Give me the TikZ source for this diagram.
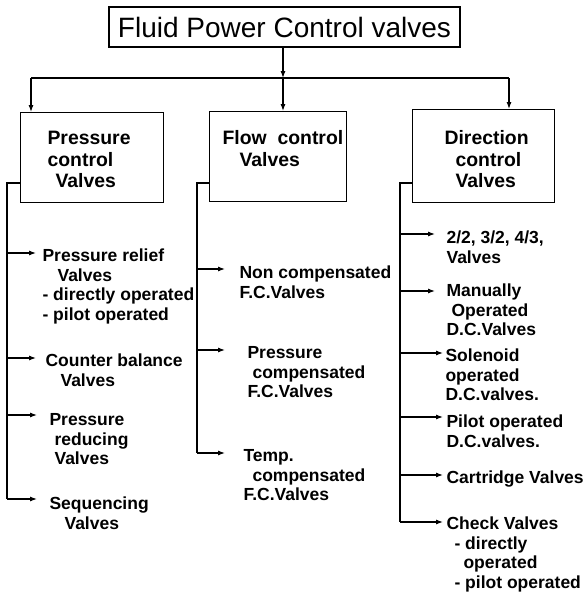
\documentclass[tikz,border=0pt]{standalone}
\usepackage{fontspec}
\setmainfont{Liberation Sans}
\usetikzlibrary{arrows.meta}
\begin{document}
\begin{tikzpicture}[x=1pt,y=-1pt, line width=1.1pt,
  arr/.style={-{Latex[length=7pt,width=5pt]}},
  box/.style={draw, inner sep=0pt, anchor=north west},
  head/.style={anchor=north west, inner sep=0pt, align=left, font=\bfseries\fontsize{19.4}{21.5}\selectfont},
  item/.style={anchor=north west, inner sep=0pt, align=left, font=\bfseries\fontsize{17.5}{19.7}\selectfont}]
\useasboundingbox (0,0) rectangle (586,594);

% title
\node[draw, inner sep=0pt, minimum width=351pt, minimum height=40pt,
      font=\fontsize{28}{30}\selectfont] (title) at (284.5,27) {Fluid Power Control valves};

% distribution line
\coordinate (hub) at (283,78);
\coordinate (hl) at (31,78);
\coordinate (hr) at (509,78);
\draw[arr] (hub |- title.south) -- (hub);
\draw (hl) -- (hr);

% category boxes
\node[box, minimum width=143pt, minimum height=90pt] (pcv) at (20,112) {};
\node[box, minimum width=137pt, minimum height=90pt] (fcv) at (209,111) {};
\node[box, minimum width=142pt, minimum height=93pt] (dcv) at (412,109) {};
\node[head] (pcvt) at (47,128.9) {\strut Pressure\\control\\\hspace*{8pt}Valves};
\node[head] (fcvt) at (222,128.9) {\strut Flow\ \ control\\\hspace*{17pt}Valves};
\node[head] (dcvt) at (444,128.9) {\strut Direction\\\hspace*{11pt}control\\\hspace*{11pt}Valves};

\draw[arr] (hl) -- (hl |- pcv.north);
\draw[arr] (hub) -- (hub |- fcv.north);
\draw[arr] (hr) -- (hr |- dcv.north);

% trunks
\coordinate (pl0) at (7,183);   \coordinate (pl1) at (7,499);
\coordinate (fl0) at (197,183); \coordinate (fl1) at (197,453);
\coordinate (dl0) at (400,183); \coordinate (dl1) at (400,522);
\draw (pcv.west |- pl0) -- (pl0) -- (pl1);
\draw (fcv.west |- fl0) -- (fl0) -- (fl1);
\draw (dcv.west |- dl0) -- (dl0) -- (dl1);

% pressure control items
\node[item] (p1) at (42,247.2) {\strut Pressure relief\\\hspace*{15pt}Valves\\- directly operated\\- pilot operated};
\node[item] (p2) at (45,352.2) {\strut Counter balance\\\hspace*{15pt}Valves};
\node[item] (p3) at (49,411.2) {\strut Pressure\\\hspace*{5pt}reducing\\\hspace*{5pt}Valves};
\node[item] (p4) at (49,495.2) {\strut Sequencing\\\hspace*{15pt}Valves};
\coordinate (p1a) at (36,253);
\coordinate (p2a) at (36,358);
\coordinate (p3a) at (37,415);
\coordinate (p4a) at (37,499);
\foreach \a in {p1a,p2a,p3a,p4a} \draw[arr] (\a -| pl0) -- (\a);

% flow control items
\node[item] (f1) at (239,264.2) {\strut Non compensated\\F.C.Valves};
\node[item] (f2) at (247,344.2) {\strut Pressure\\\hspace*{5pt}compensated\\F.C.Valves};
\node[item] (f3) at (243,447.2) {\strut Temp.\\\hspace*{9pt}compensated\\F.C.Valves};
\coordinate (f1a) at (225,269);
\coordinate (f2a) at (225,350);
\coordinate (f3a) at (225,453);
\foreach \a in {f1a,f2a,f3a} \draw[arr] (\a -| fl0) -- (\a);

% direction control items
\node[item] (d1) at (446,229.2) {\strut 2/2, 3/2, 4/3,\\Valves};
\node[item] (d2) at (446,282.2) {\strut Manually\\\hspace*{5pt}Operated\\D.C.Valves};
\node[item] (d3) at (445,347.2) {\strut Solenoid\\operated\\D.C.valves.};
\node[item] (d4) at (446,413.2) {\strut Pilot operated\\D.C.valves.};
\node[item] (d5) at (446,469.2) {\strut Cartridge Valves};
\node[item] (d6) at (446,515.2) {\strut Check Valves\\\hspace*{8pt}- directly\\\hspace*{17pt}operated\\\hspace*{8pt}- pilot operated};
\coordinate (d1a) at (435,234);
\coordinate (d2a) at (435,291);
\coordinate (d3a) at (443,353);
\coordinate (d4a) at (443,417);
\coordinate (d5a) at (443,475);
\coordinate (d6a) at (443,522);
\foreach \a in {d1a,d2a,d3a,d4a,d5a,d6a} \draw[arr] (\a -| dl0) -- (\a);
\end{tikzpicture}
\end{document}
